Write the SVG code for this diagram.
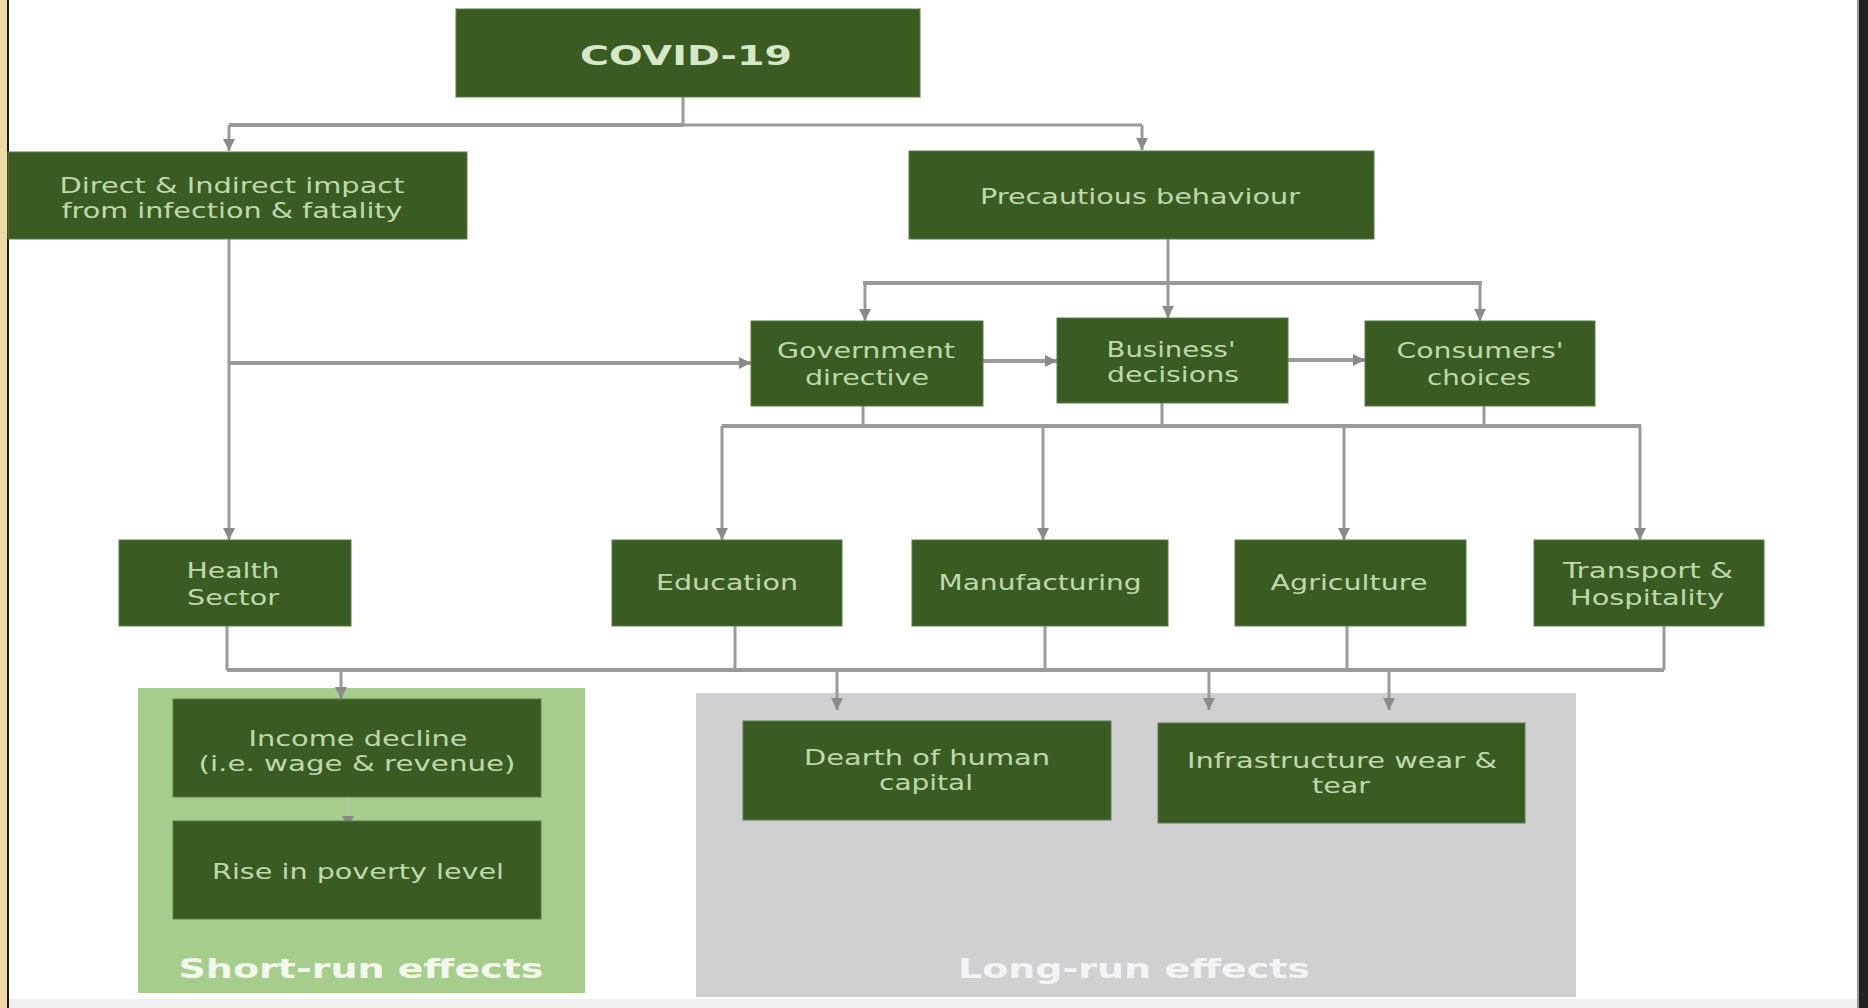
<svg xmlns="http://www.w3.org/2000/svg" width="1868" height="1008" viewBox="0 0 1868 1008">
<style>
.box{fill:#3a5c22;stroke:#5d7d48;stroke-width:1}
.t{font-family:"DejaVu Sans","Verdana",sans-serif;font-size:21px;fill:#bfd8ac;text-anchor:middle}
.tb{font-family:"DejaVu Sans","Verdana",sans-serif;font-size:27px;font-weight:bold;text-anchor:middle}
.c{fill:none;stroke:#9a9a9a;stroke-width:3}
.ct{fill:none;stroke:#9a9a9a;stroke-width:4}
</style>
<defs>
<marker id="arr" viewBox="0 0 10 10" refX="10" refY="5" markerWidth="12" markerHeight="12" markerUnits="userSpaceOnUse" orient="auto">
<path d="M0,0 L10,5 L0,10 z" fill="#8a8a8a"/>
</marker>
</defs>
<rect x="0" y="0" width="1868" height="1008" fill="#ffffff"/>
<rect x="0" y="0" width="7" height="1008" fill="#efd9a6"/>
<rect x="7" y="0" width="2" height="1008" fill="#1a1a1a"/>
<rect x="1857" y="0" width="2" height="1008" fill="#9a9a9a"/>
<rect x="1859" y="0" width="9" height="1008" fill="#222222"/>
<rect x="9" y="999" width="1848" height="9" fill="#f0f0f0"/>

<g id="panel-short"><rect x="138" y="688" width="447" height="305" fill="#a6cd8c"/><text class="tb" x="361" y="978" fill="#f2f9ec" textLength="365" lengthAdjust="spacingAndGlyphs">Short-run effects</text></g>
<g id="panel-long"><rect x="696" y="693" width="880" height="304" fill="#d0cfd2"/><text class="tb" x="1134" y="978" fill="#f4f4f4" textLength="352" lengthAdjust="spacingAndGlyphs">Long-run effects</text></g>

<g id="connectors">
<path class="c" d="M683,97 V125"/>
<path class="ct" d="M229,125 H683"/>
<path class="c" d="M683,125 H1142"/>
<path class="c" d="M229,125 V151" marker-end="url(#arr)"/>
<path class="c" d="M1142,125 V150" marker-end="url(#arr)"/>
<path class="c" d="M229,239 V540" marker-end="url(#arr)"/>
<path class="ct" d="M229,363 H751" marker-end="url(#arr)"/>
<path class="c" d="M1168,239 V318" marker-end="url(#arr)"/>
<path class="ct" d="M863,283 H1482"/>
<path class="c" d="M865,283 V321" marker-end="url(#arr)"/>
<path class="c" d="M1480,283 V321" marker-end="url(#arr)"/>
<path class="ct" d="M983,361 H1057" marker-end="url(#arr)"/>
<path class="ct" d="M1288,360 H1365" marker-end="url(#arr)"/>
<path class="c" d="M863,406 V426"/>
<path class="c" d="M1162,403 V426"/>
<path class="c" d="M1484,406 V426"/>
<path class="ct" d="M722,426 H1641"/>
<path class="c" d="M722,426 V540" marker-end="url(#arr)"/>
<path class="c" d="M1043,426 V540" marker-end="url(#arr)"/>
<path class="c" d="M1344,426 V540" marker-end="url(#arr)"/>
<path class="c" d="M1640,426 V540" marker-end="url(#arr)"/>
<path class="c" d="M227,626 V670"/>
<path class="c" d="M735,626 V670"/>
<path class="c" d="M1045,626 V670"/>
<path class="c" d="M1347,626 V670"/>
<path class="c" d="M1664,626 V670"/>
<path class="ct" d="M227,670 H1664"/>
<path class="c" d="M341,670 V699" marker-end="url(#arr)"/>
<path class="c" d="M837,670 V710" marker-end="url(#arr)"/>
<path class="c" d="M1209,670 V710" marker-end="url(#arr)"/>
<path class="c" d="M1389,670 V710" marker-end="url(#arr)"/>
<path class="c" d="M348,797 V828" marker-end="url(#arr)" style="stroke:#b4c8a8"/>
</g>

<g id="covid"><rect class="box" x="456" y="9" width="464" height="88"/><text class="tb" x="686" y="65" fill="#d6e8c8" textLength="212" lengthAdjust="spacingAndGlyphs">COVID-19</text></g>
<g id="direct"><rect class="box" x="8" y="152" width="459" height="87"/><text class="t" x="232" y="193" textLength="345" lengthAdjust="spacingAndGlyphs">Direct &amp; Indirect impact</text><text class="t" x="232" y="218" textLength="341" lengthAdjust="spacingAndGlyphs">from infection &amp; fatality</text></g>
<g id="precautious"><rect class="box" x="909" y="151" width="465" height="88"/><text class="t" x="1140" y="204" textLength="320" lengthAdjust="spacingAndGlyphs">Precautious behaviour</text></g>
<g id="government"><rect class="box" x="751" y="321" width="232" height="85"/><text class="t" x="866" y="358" textLength="178" lengthAdjust="spacingAndGlyphs">Government</text><text class="t" x="867" y="385" textLength="124" lengthAdjust="spacingAndGlyphs">directive</text></g>
<g id="business"><rect class="box" x="1057" y="318" width="231" height="85"/><text class="t" x="1171" y="357" textLength="129" lengthAdjust="spacingAndGlyphs">Business'</text><text class="t" x="1173" y="382" textLength="132" lengthAdjust="spacingAndGlyphs">decisions</text></g>
<g id="consumers"><rect class="box" x="1365" y="321" width="230" height="85"/><text class="t" x="1480" y="358" textLength="167" lengthAdjust="spacingAndGlyphs">Consumers'</text><text class="t" x="1479" y="385" textLength="104" lengthAdjust="spacingAndGlyphs">choices</text></g>
<g id="health"><rect class="box" x="119" y="540" width="232" height="86"/><text class="t" x="233" y="578" textLength="93" lengthAdjust="spacingAndGlyphs">Health</text><text class="t" x="233" y="605" textLength="92" lengthAdjust="spacingAndGlyphs">Sector</text></g>
<g id="education"><rect class="box" x="612" y="540" width="230" height="86"/><text class="t" x="727" y="590" textLength="142" lengthAdjust="spacingAndGlyphs">Education</text></g>
<g id="manufacturing"><rect class="box" x="912" y="540" width="256" height="86"/><text class="t" x="1040" y="590" textLength="203" lengthAdjust="spacingAndGlyphs">Manufacturing</text></g>
<g id="agriculture"><rect class="box" x="1235" y="540" width="231" height="86"/><text class="t" x="1349" y="590" textLength="157" lengthAdjust="spacingAndGlyphs">Agriculture</text></g>
<g id="transport"><rect class="box" x="1534" y="540" width="230" height="86"/><text class="t" x="1648" y="578" textLength="170" lengthAdjust="spacingAndGlyphs">Transport &amp;</text><text class="t" x="1647" y="605" textLength="154" lengthAdjust="spacingAndGlyphs">Hospitality</text></g>
<g id="income"><rect class="box" x="173" y="699" width="368" height="98"/><text class="t" x="358" y="746" textLength="219" lengthAdjust="spacingAndGlyphs">Income decline</text><text class="t" x="357" y="771" textLength="317" lengthAdjust="spacingAndGlyphs">(i.e. wage &amp; revenue)</text></g>
<g id="poverty"><rect class="box" x="173" y="821" width="368" height="98"/><text class="t" x="358" y="879" textLength="292" lengthAdjust="spacingAndGlyphs">Rise in poverty level</text></g>
<g id="dearth"><rect class="box" x="743" y="721" width="368" height="99"/><text class="t" x="927" y="765" textLength="246" lengthAdjust="spacingAndGlyphs">Dearth of human</text><text class="t" x="926" y="790" textLength="94" lengthAdjust="spacingAndGlyphs">capital</text></g>
<g id="infrastructure"><rect class="box" x="1158" y="723" width="367" height="100"/><text class="t" x="1342" y="768" textLength="310" lengthAdjust="spacingAndGlyphs">Infrastructure wear &amp;</text><text class="t" x="1341" y="793" textLength="58" lengthAdjust="spacingAndGlyphs">tear</text></g>
</svg>
